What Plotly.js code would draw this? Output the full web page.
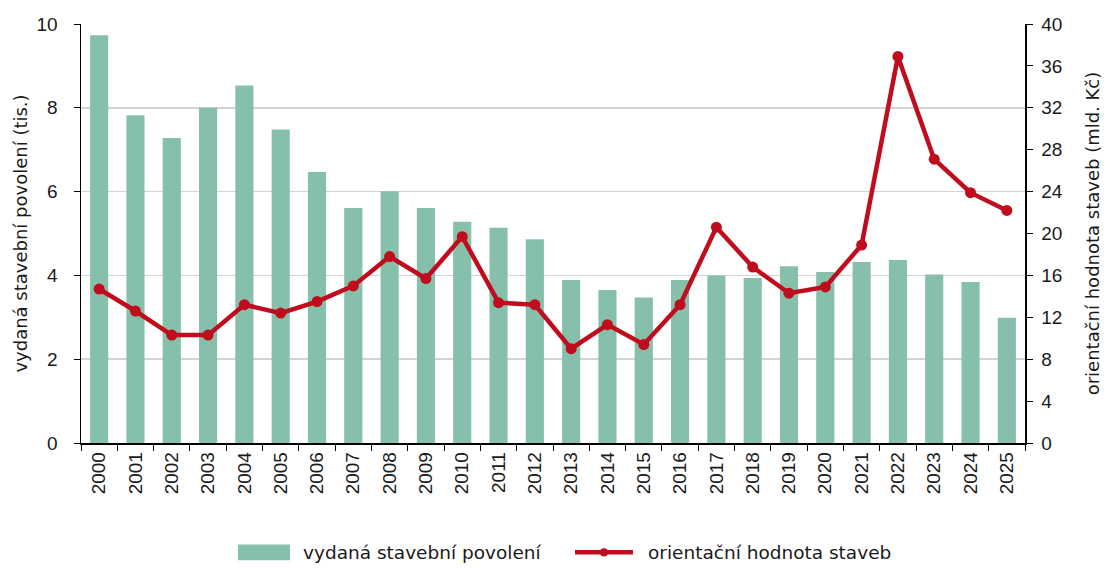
<!DOCTYPE html>
<html><head><meta charset="utf-8">
<script src="https://cdn.plot.ly/plotly-3.0.1.min.js"></script>
<style>html,body{margin:0;padding:0;background:#fff}#chart{width:1113px;height:568px}</style>
</head><body><div id="chart"></div>
<script>
const years = ["2000","2001","2002","2003","2004","2005","2006","2007","2008","2009","2010","2011","2012","2013","2014","2015","2016","2017","2018","2019","2020","2021","2022","2023","2024","2025"];
const permits = [9.73,7.82,7.28,8.0,8.53,7.48,6.47,5.61,6.01,5.61,5.28,5.14,4.86,3.89,3.65,3.47,3.89,4.0,3.94,4.22,4.08,4.32,4.37,4.02,3.84,2.99];
const value = [14.7,12.6,10.3,10.3,13.2,12.4,13.5,15.0,17.8,15.7,19.7,13.4,13.2,9.0,11.3,9.4,13.2,20.6,16.8,14.3,14.9,18.9,36.9,27.1,23.9,22.2];
const nameBars = "vydaná stavební povolení";
const nameLine = "orientační hodnota staveb";
const leftTitle = "vydaná stavební povolení (tis.)";
const rightTitle = "orientační hodnota staveb (mld. Kč)";

const barColor = "#86c0ab", lineColor = "#c00d1e", txt = "#1a1a1a";
const wideFont = "DejaVu Sans, Verdana, sans-serif";
const traces = [
 {type:"bar", x:years, y:permits, name:nameBars, marker:{color:barColor}, yaxis:"y", showlegend:false},
 {type:"scatter", mode:"lines+markers", x:years, y:value, name:nameLine, yaxis:"y2", showlegend:false,
  line:{color:lineColor, width:4.5}, marker:{color:lineColor, size:11}}
];
const font = {family:"Liberation Sans, Arial, sans-serif", size:19, color:txt};
const ly = -0.261;
const layout = {
 width:1113, height:568, font:font,
 paper_bgcolor:"#fff", plot_bgcolor:"#fff",
 margin:{l:81, r:88, t:24, b:124.5},
 bargap:0.5, showlegend:false,
 xaxis:{type:"category", range:[-0.5,25.5], automargin:false, tickangle:-90, showline:true, linecolor:"#000", linewidth:1.5, ticks:"outside", ticklen:6, tickcolor:"#000", tickson:"boundaries", showgrid:false, tickfont:{size:19, color:txt}},
 yaxis:{range:[0,10], dtick:2, automargin:false, showline:true, linecolor:"#000", linewidth:1.5, ticks:"outside", ticklen:6, tickcolor:"#000", gridcolor:"#d3d3d3", gridwidth:1.5, zeroline:false, tickfont:{size:19, color:txt}, ticklabelstandoff:12,
  title:{text:leftTitle, font:{family:wideFont, size:18, color:txt}, standoff:4}},
 yaxis2:{range:[0,40], dtick:4, overlaying:"y", side:"right", automargin:false, showline:true, linecolor:"#000", linewidth:1.5, ticks:"outside", ticklen:6, tickcolor:"#000", showgrid:false, zeroline:false, tickfont:{size:19, color:txt}, ticklabelstandoff:5,
  title:{text:rightTitle, font:{family:wideFont, size:18, color:txt}, standoff:24}},
 shapes:[
  {type:"rect", xref:"paper", yref:"paper", x0:0.1663, x1:0.2214, y0:-0.2801, y1:-0.2420, fillcolor:barColor, line:{width:0}},
  {type:"line", xref:"paper", yref:"paper", x0:0.5233, x1:0.5847, y0:ly, y1:ly, line:{color:lineColor, width:4.5}},
  {type:"circle", xref:"paper", yref:"paper", x0:0.5540-0.0045, x1:0.5540+0.0045, y0:ly-0.0101, y1:ly+0.0101, fillcolor:lineColor, line:{width:0}}
 ],
 annotations:[
  {xref:"paper", yref:"paper", x:0.2331, y:ly, xanchor:"left", yanchor:"middle", text:nameBars, showarrow:false, font:{family:wideFont, size:18.5, color:txt}},
  {xref:"paper", yref:"paper", x:0.5985, y:ly, xanchor:"left", yanchor:"middle", text:nameLine, showarrow:false, font:{family:wideFont, size:18.5, color:txt}}
 ]
};
Plotly.newPlot("chart", traces, layout, {displayModeBar:false, staticPlot:true});
</script></body></html>
